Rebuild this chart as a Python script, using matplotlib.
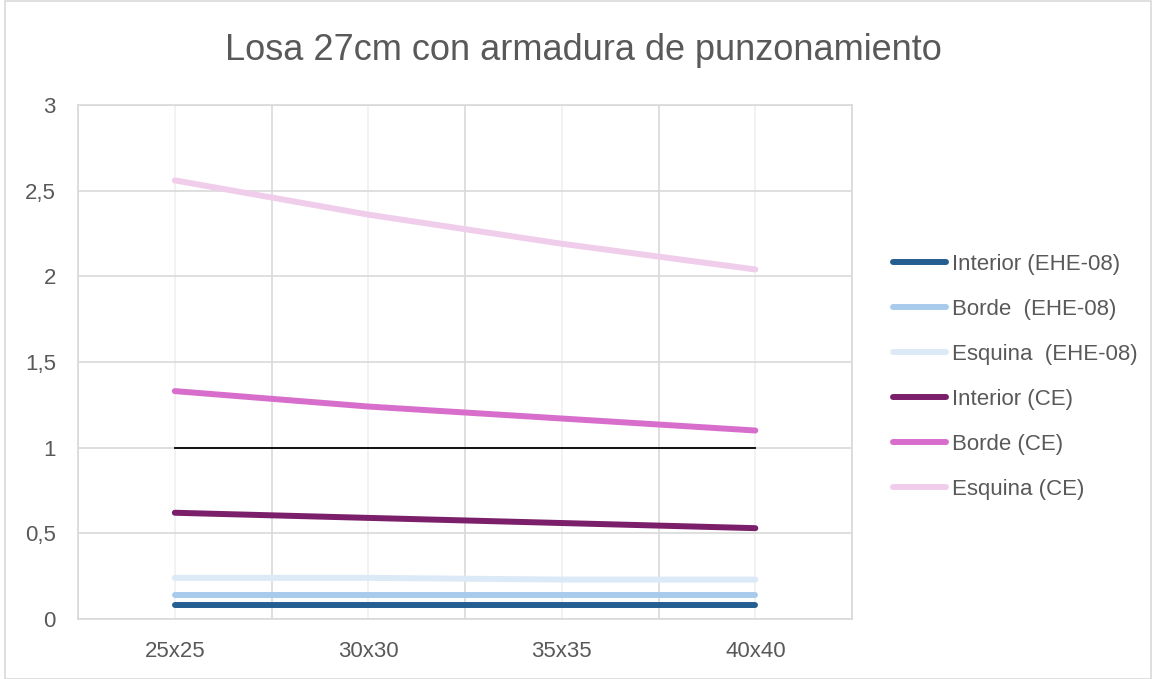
import matplotlib.pyplot as plt
from matplotlib.ticker import FuncFormatter, MultipleLocator
from matplotlib.patches import Rectangle

categories = ["25x25", "30x30", "35x35", "40x40"]
interior_ehe = [0.08, 0.08, 0.08, 0.08]
borde_ehe = [0.14, 0.14, 0.14, 0.14]
esquina_ehe = [0.24, 0.24, 0.23, 0.23]
interior_ce = [0.62, 0.59, 0.56, 0.53]
borde_ce = [1.33, 1.24, 1.17, 1.10]
esquina_ce = [2.56, 2.36, 2.19, 2.04]
limite = [1, 1, 1, 1]

series = [
    ("Interior (EHE-08)", interior_ehe, "#255e91"),
    ("Borde  (EHE-08)", borde_ehe, "#a9cbeb"),
    ("Esquina  (EHE-08)", esquina_ehe, "#dce9f6"),
    ("Interior (CE)", interior_ce, "#7b1f6a"),
    ("Borde (CE)", borde_ce, "#d86ecc"),
    ("Esquina (CE)", esquina_ce, "#f1cdec"),
]

plt.rcParams["font.family"] = ["Liberation Sans", "DejaVu Sans"]
txt = "#595959"
grid_c = "#d9d9d9"

fig = plt.figure(figsize=(11.53, 6.79), dpi=100)
fig.patches.append(Rectangle((0.004, 0.0), 0.994, 0.999, transform=fig.transFigure,
                             fill=False, edgecolor=grid_c, linewidth=1.2))
ax = fig.add_axes([0.0677, 0.0884, 0.6713, 0.757])

x = list(range(len(categories)))
ax.plot(x, limite, color="black", linewidth=1.3, zorder=2)
for label, vals, col in series:
    ax.plot(x, vals, color=col, linewidth=4.3, solid_capstyle="round",
            label=label, zorder=3)

ax.set_xlim(-0.5, 3.5)
ax.set_ylim(0, 3)
ax.set_xticks(x)
ax.set_xticklabels(categories)
ax.xaxis.set_minor_locator(MultipleLocator(1, offset=0.5))
ax.yaxis.set_major_locator(MultipleLocator(0.5))
ax.yaxis.set_major_formatter(FuncFormatter(lambda v, p: f"{v:g}".replace(".", ",")))

ax.grid(True, axis="y", color=grid_c, linewidth=1.2, zorder=0)
ax.grid(True, axis="x", which="major", color="#f0f0f0", linewidth=1.2, zorder=0)
ax.grid(True, axis="x", which="minor", color=grid_c, linewidth=1.2, zorder=0)
ax.set_axisbelow(True)
for s in ax.spines.values():
    s.set_color(grid_c)
    s.set_linewidth(1.2)
ax.tick_params(which="both", length=0, labelsize=16, colors=txt, pad=16)

fig.text(0.506, 0.926, "Losa 27cm con armadura de punzonamiento",
         ha="center", va="center", fontsize=26, color=txt)

leg = ax.legend(loc="center left", bbox_to_anchor=(1.027, 0.471), frameon=False,
                fontsize=16, labelcolor=txt, handlelength=2.4, handletextpad=0.27,
                labelspacing=1.08)

fig.savefig("out.png", dpi=100)
